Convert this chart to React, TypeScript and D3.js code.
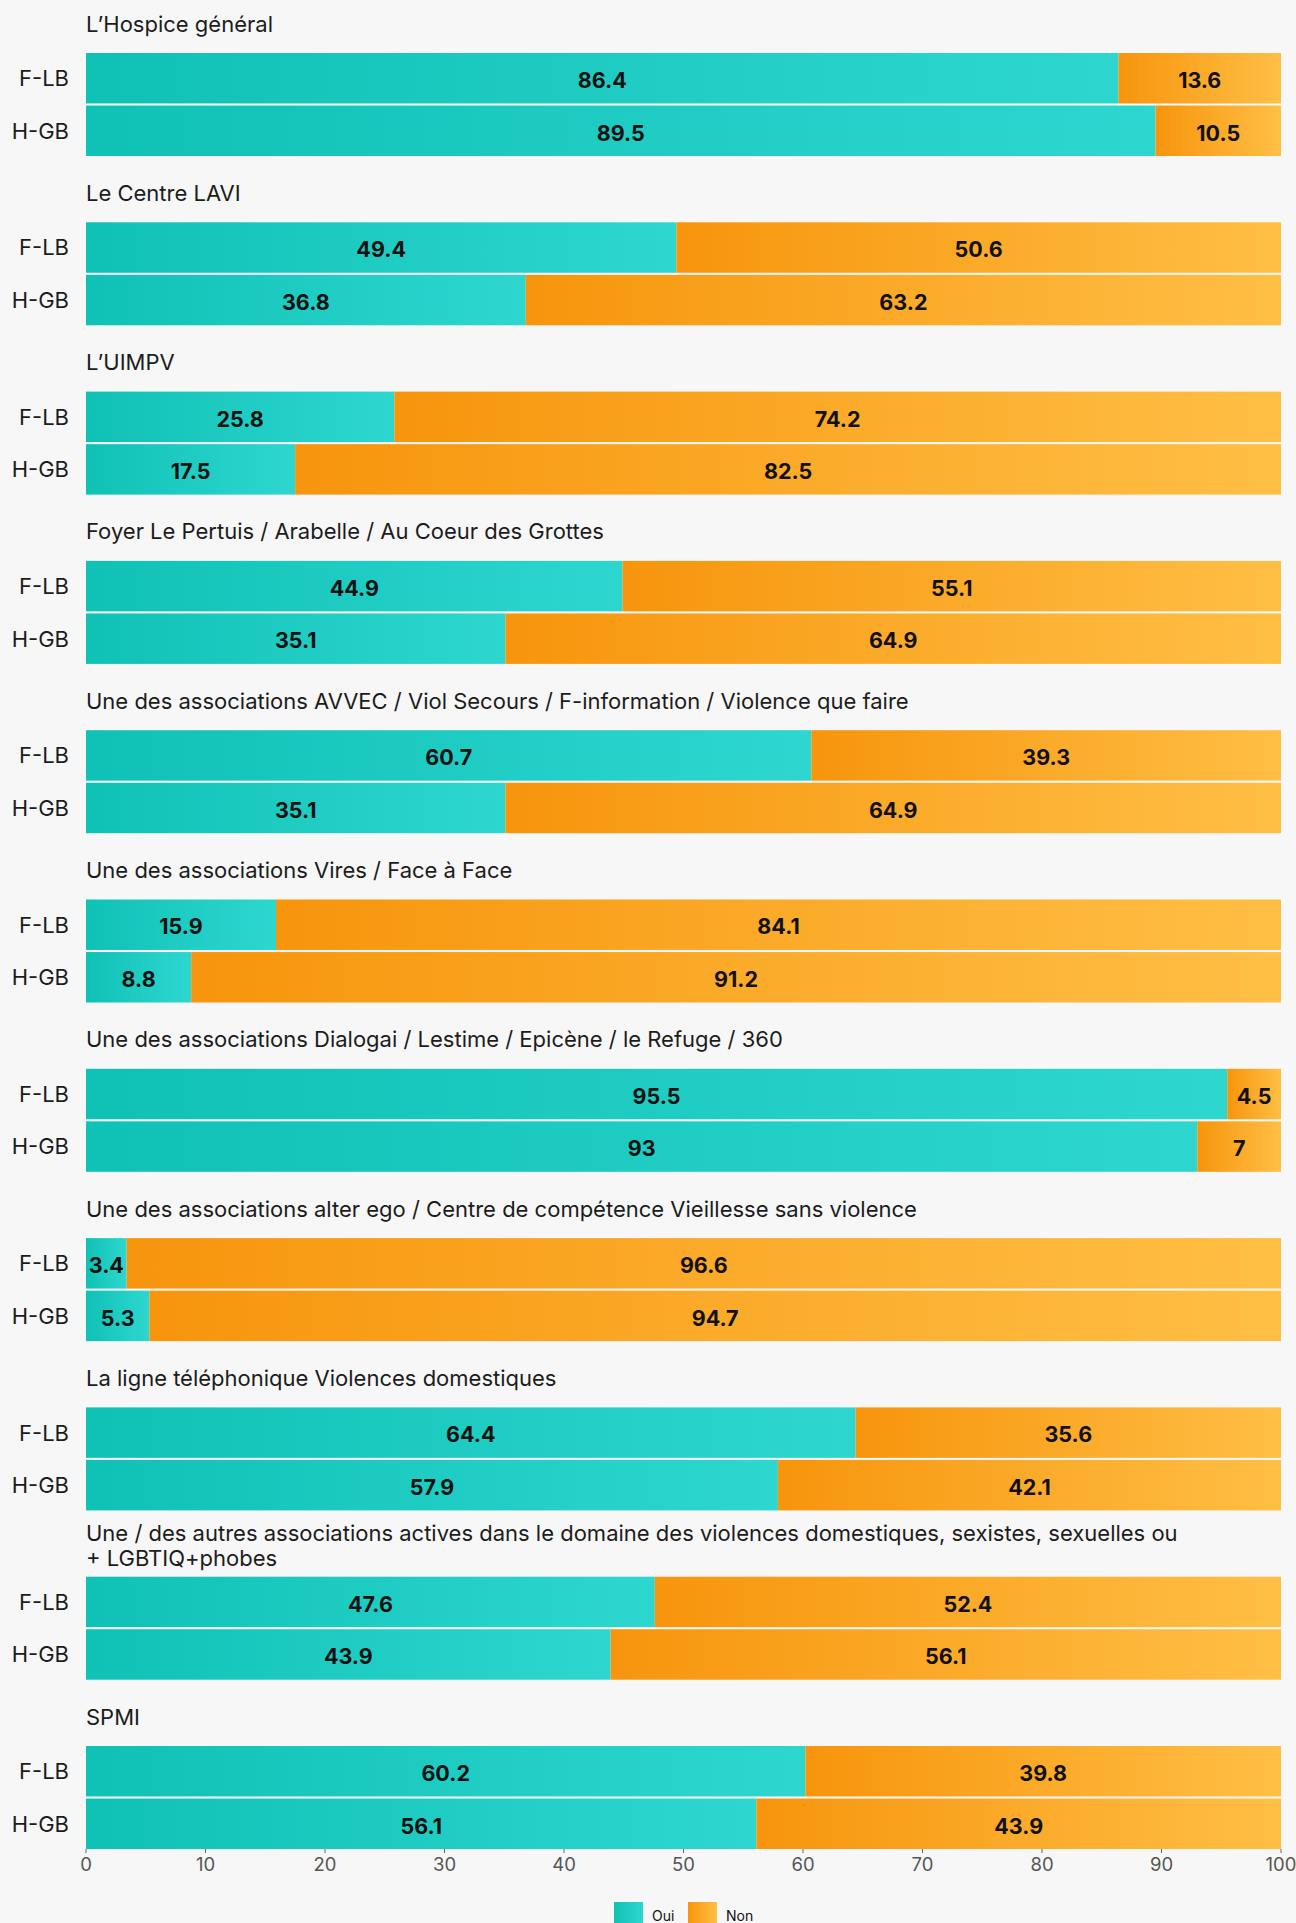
import * as d3 from "d3";

const GROUPS = [
  "L’Hospice général",
  "Le Centre LAVI",
  "L’UIMPV",
  "Foyer Le Pertuis / Arabelle / Au Coeur des Grottes",
  "Une des associations AVVEC / Viol Secours / F-information / Violence que faire",
  "Une des associations Vires / Face à Face",
  "Une des associations Dialogai / Lestime / Epicène / le Refuge / 360",
  "Une des associations alter ego / Centre de compétence Vieillesse sans violence",
  "La ligne téléphonique Violences domestiques",
  "Une / des autres associations actives dans le domaine des violences domestiques, sexistes, sexuelles ou\n+ LGBTIQ+phobes",
  "SPMI",
];
const ROWS = ["F-LB", "H-GB"];
// "Oui" share per group, rows F-LB then H-GB
const OUI_FLB = [86.4, 49.4, 25.8, 44.9, 60.7, 15.9, 95.5, 3.4, 64.4, 47.6, 60.2];
const OUI_HGB = [89.5, 36.8, 17.5, 35.1, 35.1, 8.8, 93, 5.3, 57.9, 43.9, 56.1];
const NON_FLB = [13.6, 50.6, 74.2, 55.1, 39.3, 84.1, 4.5, 96.6, 35.6, 52.4, 39.8];
const NON_HGB = [10.5, 63.2, 82.5, 64.9, 64.9, 91.2, 7, 94.7, 42.1, 56.1, 43.9];
const SERIES = ["Oui", "Non"];
const TICKS = [0, 10, 20, 30, 40, 50, 60, 70, 80, 90, 100];

const W = 1296;
const H = 1923;
const FONT = "Inter, 'Liberation Sans', Arial, sans-serif";

export default function App() {
  const x = d3.scaleLinear().domain([0, 100]).range([86, 1281]);
  const yGroup = d3.scaleLinear().domain([0, GROUPS.length - 1]).range([53, 1746]);
  const yRow = d3.scaleBand<string>().domain(ROWS).range([0, 103]).paddingInner(0.04);
  const color = d3.scaleOrdinal<string, string>().domain(SERIES).range(["url(#gOui)", "url(#gNon)"]);

  const barBottom = yGroup(GROUPS.length - 1) + 103;

  return (
    <div>
      <style>{`body{margin:0;background:#f7f7f7}`}</style>
      <svg width={W} height={H} style={{ display: "block", background: "#f7f7f7" }}>
        <defs>
          <linearGradient id="gOui" x1="0" x2="1" y1="0" y2="0">
            <stop offset="0%" stopColor="#10c1b5" />
            <stop offset="100%" stopColor="#2dd7d0" />
          </linearGradient>
          <linearGradient id="gNon" x1="0" x2="1" y1="0" y2="0">
            <stop offset="0%" stopColor="#f7950d" />
            <stop offset="100%" stopColor="#ffbf45" />
          </linearGradient>
        </defs>

        {GROUPS.map((title, gi) => {
          const top = yGroup(gi);
          const lines = title.split("\n");
          const rows = [
            { key: "F-LB", oui: OUI_FLB[gi], non: NON_FLB[gi] },
            { key: "H-GB", oui: OUI_HGB[gi], non: NON_HGB[gi] },
          ];
          return (
            <g key={gi}>
              {lines.map((ln, li) => (
                <text
                  key={li}
                  x={86}
                  y={lines.length > 1 ? top - 36 + li * 25.5 : top - 21.5}
                  fontFamily={FONT}
                  fontSize={22}
                  fill="#1c1c1c"
                >
                  {ln}
                </text>
              ))}
              {rows.map((r) => {
                const ry = top + (yRow(r.key) ?? 0);
                const bh = yRow.bandwidth();
                const segs = [
                  { s: "Oui", x0: 0, x1: r.oui, v: r.oui },
                  { s: "Non", x0: r.oui, x1: r.oui + r.non, v: r.non },
                ];
                return (
                  <g key={r.key}>
                    <text
                      x={69}
                      y={ry + bh / 2}
                      dy="0.36em"
                      textAnchor="end"
                      fontFamily={FONT}
                      fontSize={22}
                      fill="#1c1c1c"
                    >
                      {r.key}
                    </text>
                    {segs.map((sg) => (
                      <rect
                        key={sg.s}
                        x={x(sg.x0)}
                        y={ry}
                        width={Math.max(0, x(sg.x1) - x(sg.x0))}
                        height={bh}
                        fill={color(sg.s)}
                      />
                    ))}
                    {segs.map((sg) => (
                      <text
                        key={sg.s + "t"}
                        x={(x(sg.x0) + x(sg.x1)) / 2}
                        y={ry + bh / 2 + 2}
                        dy="0.36em"
                        textAnchor="middle"
                        fontFamily={FONT}
                        fontWeight={700}
                        fontSize={21.5}
                        fill="#111"
                      >
                        {sg.v}
                      </text>
                    ))}
                  </g>
                );
              })}
            </g>
          );
        })}

        {/* x axis */}
        <g>
          {TICKS.map((t) => (
            <g key={t} transform={`translate(${x(t)},${barBottom})`}>
              <line y1={0} y2={4} stroke="#666" strokeWidth={1} />
              <text
                y={15}
                dy="0.36em"
                textAnchor="middle"
                fontFamily={FONT}
                fontSize={18.5}
                fill="#555"
              >
                {t}
              </text>
            </g>
          ))}
        </g>

        {/* legend */}
        {SERIES.map((s, i) => (
          <g key={s} transform={`translate(${614 + i * 74},1902)`}>
            <rect width={29} height={29} fill={color(s)} />
            <text x={38} y={19} fontFamily={FONT} fontSize={14} fill="#111">
              {s}
            </text>
          </g>
        ))}
      </svg>
    </div>
  );
}
